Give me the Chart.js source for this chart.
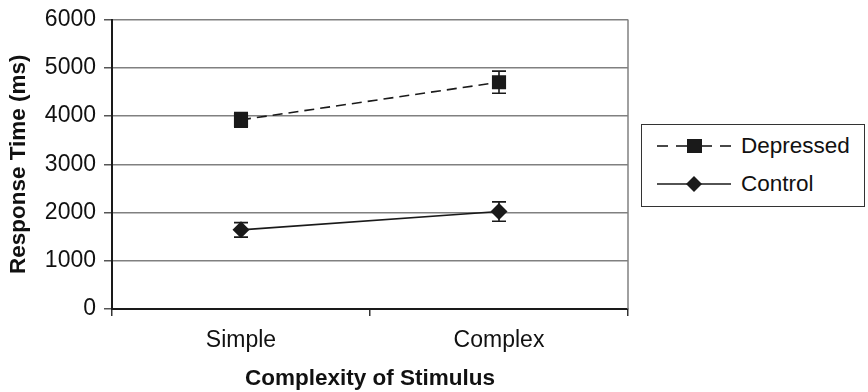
<!DOCTYPE html>
<html>
<head>
<meta charset="utf-8">
<script src="https://cdn.jsdelivr.net/npm/chart.js@4.4.1/dist/chart.umd.min.js"></script>
<style>
  html, body { margin: 0; padding: 0; background: #fff; }
  #wrap { position: relative; width: 868px; height: 392px; }
  #leyenda {
    position: absolute; left: 641px; top: 124px; width: 224px; height: 83px;
    border: 1px solid #333; box-sizing: border-box; background: #fff;
    font-family: "Liberation Sans", Arial, sans-serif; font-size: 22.5px; color: #111;
  }
  .item { position: absolute; left: 15px; height: 24px; display: flex; align-items: center; }
  .item svg { margin-right: 8px; }
</style>
</head>
<body>
<div id="wrap">
  <canvas id="grafico" width="868" height="392"></canvas>
  <div id="leyenda">
    <div class="item" style="top: 9px;">
      <svg width="76" height="20" viewBox="0 0 76 20">
        <g stroke="#1a1a1a" stroke-width="1.6">
          <line x1="0" y1="10" x2="11" y2="10"/>
          <line x1="19" y1="10" x2="30" y2="10"/>
          <line x1="45" y1="10" x2="55" y2="10"/>
          <line x1="63" y1="10" x2="74" y2="10"/>
        </g>
        <rect x="30" y="3" width="15" height="14" fill="#1a1a1a"/>
      </svg>
      <span>Depressed</span>
    </div>
    <div class="item" style="top: 47px;">
      <svg width="76" height="20" viewBox="0 0 76 20">
        <line x1="0" y1="10" x2="74" y2="10" stroke="#1a1a1a" stroke-width="1.6"/>
        <polygon points="37,2 45,10 37,18 29,10" fill="#1a1a1a"/>
      </svg>
      <span>Control</span>
    </div>
  </div>
</div>
<script>
// Datos
const categorias = ['Simple', 'Complex'];
const deprimidos = [3920, 4700];
const deprimidosErr = [150, 230];
const control = [1640, 2020];
const controlErr = [150, 200];
const ticksY = [0, 1000, 2000, 3000, 4000, 5000, 6000];

const FUENTE = '"Liberation Sans", Arial, sans-serif';
const NEGRO = '#1a1a1a';
const GRIS = '#808080';

// Barras de error dibujadas con la escala y
const barrasError = {
  id: 'barrasError',
  afterDatasetsDraw(chart) {
    const ctx = chart.ctx;
    const y = chart.scales.y;
    chart.data.datasets.forEach((ds, i) => {
      const meta = chart.getDatasetMeta(i);
      meta.data.forEach((pt, j) => {
        const v = ds.data[j];
        const e = ds.errores[j];
        const yArriba = y.getPixelForValue(v + e);
        const yAbajo = y.getPixelForValue(v - e);
        ctx.save();
        ctx.strokeStyle = NEGRO;
        ctx.lineWidth = 1.6;
        ctx.beginPath();
        ctx.moveTo(pt.x, yArriba); ctx.lineTo(pt.x, yAbajo);
        ctx.moveTo(pt.x - 7, yArriba); ctx.lineTo(pt.x + 7, yArriba);
        ctx.moveTo(pt.x - 7, yAbajo); ctx.lineTo(pt.x + 7, yAbajo);
        ctx.stroke();
        ctx.restore();
      });
    });
  }
};

// Borde derecho del área del gráfico
const marco = {
  id: 'marco',
  beforeDatasetsDraw(chart) {
    const { ctx, chartArea } = chart;
    ctx.save();
    ctx.strokeStyle = GRIS;
    ctx.lineWidth = 1.5;
    ctx.beginPath();
    ctx.moveTo(chartArea.right, chartArea.top);
    ctx.lineTo(chartArea.right, chartArea.bottom);
    ctx.stroke();
    ctx.restore();
  }
};

new Chart(document.getElementById('grafico'), {
  type: 'line',
  data: {
    labels: categorias,
    datasets: [
      {
        label: 'Depressed',
        data: deprimidos,
        errores: deprimidosErr,
        borderColor: NEGRO,
        backgroundColor: NEGRO,
        borderWidth: 1.6,
        borderDash: [10, 6],
        pointStyle: 'rect',
        pointRadius: 10,
        pointBorderWidth: 0,
        tension: 0
      },
      {
        label: 'Control',
        data: control,
        errores: controlErr,
        borderColor: NEGRO,
        backgroundColor: NEGRO,
        borderWidth: 1.6,
        pointStyle: 'rectRot',
        pointRadius: 8.5,
        pointBorderWidth: 0,
        tension: 0
      }
    ]
  },
  options: {
    responsive: false,
    animation: false,
    layout: { padding: { top: 17, right: 240, bottom: 0, left: 0 } },
    plugins: {
      legend: { display: false },
      tooltip: { enabled: false }
    },
    scales: {
      x: {
        offset: true,
        grid: { offset: true, drawOnChartArea: false, tickLength: 7, color: '#333', lineWidth: 1.5 },
        border: { color: NEGRO, width: 2 },
        ticks: { color: '#111', font: { family: FUENTE, size: 23 }, padding: 11 },
        title: { display: true, text: 'Complexity of Stimulus', color: '#111',
                 font: { family: FUENTE, size: 22.5, weight: 'bold' }, padding: { top: 0, bottom: 0 } },
        afterFit(s) { s.height = 83; }
      },
      y: {
        min: 0,
        max: 6000,
        afterBuildTicks(s) { s.ticks = ticksY.map(v => ({ value: v })); },
        grid: { color: GRIS, lineWidth: 1.5, tickLength: 8, tickColor: '#555' },
        border: { color: NEGRO, width: 2 },
        ticks: { color: '#111', font: { family: FUENTE, size: 23, lineHeight: 1 }, padding: 8,
                 callback: (v) => String(v) },
        title: { display: true, text: 'Response Time (ms)', color: '#111',
                 font: { family: FUENTE, size: 22.5, weight: 'bold' }, padding: { top: 5, bottom: 4 } },
        afterFit(s) { s.width = 112; }
      }
    }
  },
  plugins: [marco, barrasError]
});
</script>
</body>
</html>
